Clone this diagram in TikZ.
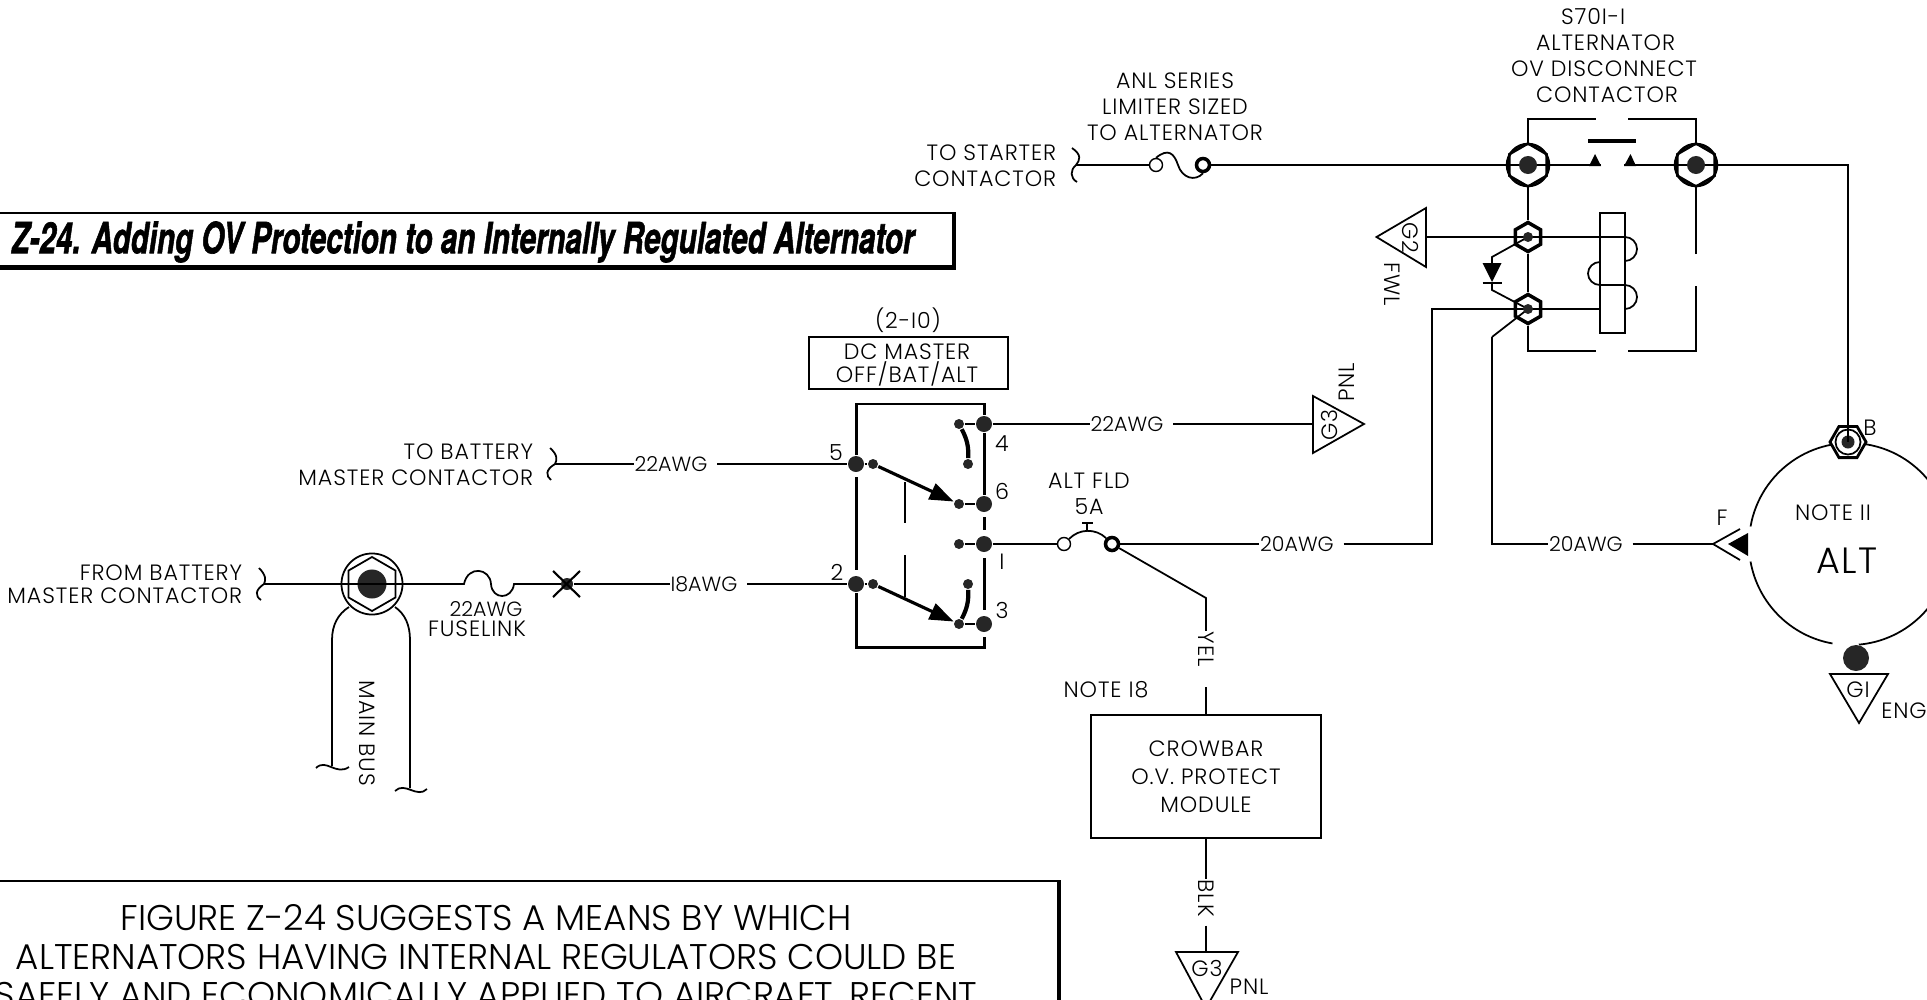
\documentclass[tikz,border=0pt]{standalone}
\usepackage{fontspec}
\setmainfont[LetterSpace=4]{Poppins Light}
\newfontfamily\plainfont{Poppins Light}
\newfontfamily\titlefont[BoldItalicFeatures={FakeBold=1.6}]{TeX Gyre Heros}
\usetikzlibrary{positioning,shapes.geometric,arrows.meta}

\begin{document}
\begin{tikzpicture}[x=0.01cm,y=-0.01cm,line width=0.5pt,
    txt/.style={inner sep=0pt,align=center,yshift=-0.012cm,font=\fontsize{6.3}{7.4}\selectfont},
    awglabel/.style={inner sep=0pt,font=\plainfont\fontsize{5.85}{7}\selectfont},
    bigblob/.style={circle,fill=black!85,inner sep=0pt,minimum size=0.16cm},
    smallblob/.style={circle,fill=black!85,inner sep=0pt,minimum size=0.1cm},
    ring/.style={circle,draw,fill=white,inner sep=0pt,minimum size=0.13cm},
    nutcircle/.style={circle,draw,line width=0.7pt,inner sep=0pt,minimum size=0.42cm},
    nuthex/.style={regular polygon,regular polygon sides=6,shape border rotate=30,draw,line width=0.7pt,inner sep=0pt,minimum size=0.43cm},
    smallnut/.style={regular polygon,regular polygon sides=6,shape border rotate=30,draw,line width=1pt,inner sep=0pt,minimum size=0.29cm},
    swline/.style={line width=0.85pt},
    handle/.style={line width=1.2pt},
    throw/.style={line width=0.9pt,-{Triangle[length=0.24cm,width=0.17cm]}},
    box/.style={draw,line width=0.7pt,inner sep=0pt}
    ]
    \useasboundingbox (0,0) rectangle (1927,1000);
    \clip (0,0) rectangle (1927,1000);

    % title and note
    \draw[line width=0.6pt] (-5,213) -- (953,213) -- (953,266) -- (-5,266);
    \fill (-5,265) rectangle (956,270);
    \fill (952,212) rectangle (956,270);
    \node[inner sep=0pt,xscale=0.69,transform shape,font=\titlefont\bfseries\itshape\fontsize{12.2}{14}\selectfont] (title) at (463,242) {Z-24. Adding OV Protection to an Internally Regulated Alternator};
    \draw[line width=0.6pt] (-5,881) -- (1060,881);
    \fill (1057,880) rectangle (1061,1005);
    \node[txt,font=\plainfont\fontsize{10.15}{10.9}\selectfont] (note) at (486,955) {FIGURE Z-24 SUGGESTS A MEANS BY WHICH\\ALTERNATORS HAVING INTERNAL REGULATORS COULD BE\\SAFELY AND ECONOMICALLY APPLIED TO AIRCRAFT. RECENT};

    % contactor
    \node[nutcircle] (C1) at (1528,165) {};
    \node[nuthex] (C1h) at (1528,165) {};
    \node[nutcircle] (C2) at (1696,165) {};
    \node[nuthex] (C2h) at (1696,165) {};
    \node[smallnut] (R1) at (1528,237) {};
    \node[smallnut] (R2) at (1528,309) {};
    \node[txt,align=left] (contactor) at (1604,54) {\hspace*{0.5cm}S70I-I\\\hspace*{0.25cm}ALTERNATOR\\OV DISCONNECT\\\hspace*{0.25cm}CONTACTOR};
    \draw (C1.center) to (1601,165);
    \draw (1624,165) to (C2.center);
    \fill (1589,166) -- (1595,154) -- (1601,166) -- cycle;
    \fill (1624,166) -- (1630.5,154) -- (1636,166) -- cycle;
    \draw[line width=1.1pt] (1588,141) -- (1636,141);
    \draw (C1) to (1528,119) -- (1596,119);
    \draw (1628,119) -- (1696,119) to (C2);
    \draw (C1) to (R1);
    \draw (R1) to (R2);
    \draw (R2) to (1528,351) -- (1596,351);
    \draw (1628,351) -- (1696,351) -- (1696,286);
    \draw (1696,254) to (C2);
    \node[draw,inner sep=0pt,minimum width=0.25cm,minimum height=1.2cm] (coil) at (1612.5,273) {};
    \draw (R1.center) to (1625,237) arc[start angle=90,end angle=-90,x radius=12,y radius=-12];
    \draw (1600,262) arc[start angle=90,end angle=270,x radius=12,y radius=-11.5] -- (1625,285) arc[start angle=90,end angle=-90,x radius=12,y radius=-12];
    \draw (R2.center) to (1600,309);
    % diode
    \draw (R1.center) -- (1492,257) -- (1492,264);
    \fill (1482.5,263) -- (1501.5,263) -- (1492,282) -- cycle;
    \draw[line width=0.8pt] (1482.5,283) -- (1501.5,283);
    \draw (1492,283) -- (1492,290) -- (R2.center);
    % FWL ground
    \coordinate (G2a) at (1426,237);
    \draw (1376.5,237) -- (1426,208) -- (1426,267) -- cycle;
    \node[txt,rotate=-90] (G2) at (1410,237) {G2};
    \node[txt,rotate=-90] (FWL) at (1392,283) {FWL};
    \draw (G2a) to (R1.center);

    % limiter
    \node[txt] (anl) at (1175,106) {ANL SERIES\\LIMITER SIZED\\TO ALTERNATOR};
    \node[txt,anchor=east,align=right] (starter) at (1057,165) {TO STARTER\\CONTACTOR};
    \coordinate (LimIn) at (1076,165);
    \node[ring,line width=0.4pt] (L1) at (1156,165) {};
    \node[ring,line width=1pt] (L2) at (1203,165) {};
    \draw (1072,148) .. controls (1082,155) and (1080,160) .. (LimIn) .. controls (1070,170) and (1070,178) .. (1077,182);
    \draw (LimIn) to (L1);
    \draw (L1.north) .. controls (1168,148) and (1174,153) .. (1178,165) .. controls (1182,178) and (1195,182) .. (L2.south);
    \draw (L2) to (C1.center);
    \draw (C2.center) to (1848,165) to (1848,442);

    % switch
    \node[txt] (swref) at (908,319) {(2-I0)};
    \node[box,minimum width=1.99cm,minimum height=0.52cm] (swname) at (908.5,363) {};
    \node[txt,font=\fontsize{6.3}{6.6}\selectfont] (swtext) at (907,364) {DC MASTER\\OFF/BAT/ALT};
    \node[bigblob] (S5) at (856,464) {};
    \node[bigblob] (S2) at (856,584) {};
    \node[bigblob] (S4) at (984,424) {};
    \node[bigblob] (S6) at (984,504) {};
    \node[bigblob] (S1) at (984,544) {};
    \node[bigblob] (S3) at (984,624) {};
    \node[smallblob] (D5) at (873,464) {};
    \node[smallblob] (D2) at (873,584) {};
    \node[smallblob] (D4) at (959,424) {};
    \node[smallblob] (D6) at (959,504) {};
    \node[smallblob] (D1) at (959,544) {};
    \node[smallblob] (D3) at (959,624) {};
    \node[smallblob] (U4) at (968,464) {};
    \node[smallblob] (U3) at (968,584) {};
    \node[txt] (n5) at (836,451) {5};
    \node[txt] (n2) at (837,571) {2};
    \node[txt] (n4) at (1002,442) {4};
    \node[txt] (n6) at (1002,490) {6};
    \node[txt] (n1) at (1002,561) {I};
    \node[txt] (n3) at (1002,609) {3};
    \draw[swline] (S5) to (856,404) -- (984,404) to (S4);
    \draw[swline] (856,477) -- (856,570);
    \draw[swline] (S2) to (856,647) -- (984,647) -- (984,637);
    \draw[swline] (S4) to (S6);
    \draw[swline] (984,517) -- (984,530);
    \draw[swline] (984,558) -- (984,610);
    \draw (S5) to (D5);
    \draw (S2) to (D2);
    \draw (D4) to (S4);
    \draw (D6) to (S6);
    \draw (D1) to (S1);
    \draw (D3) to (S3);
    \draw[handle] (D4) to[bend left=15] (U4);
    \draw[handle] (U3) to[bend left=15] (D3);
    \draw[throw] (D5) to (D6);
    \draw[throw] (D2) to (D3);
    \draw (905,482) -- (905,523);
    \draw (905,555) -- (905,597);

    % left side
    \node[txt,anchor=east,align=right] (batto) at (534,464) {TO BATTERY\\MASTER CONTACTOR};
    \coordinate (BatIn) at (555,464);
    \node[awglabel] (awg5) at (671,464) {22AWG};
    \draw (550,448) .. controls (558,455) and (557,460) .. (BatIn) .. controls (545,470) and (546,476) .. (551,480);
    \draw (BatIn) to (awg5.west);
    \draw ([xshift=0.09cm]awg5.east) to (S5);
    \node[txt,anchor=east,align=right,font=\fontsize{6.3}{6.6}\selectfont] (batfrom) at (243,583) {FROM BATTERY\\MASTER CONTACTOR};
    \coordinate (FromIn) at (264,584);
    \draw (259,568) .. controls (266,575) and (266,580) .. (FromIn) .. controls (255,590) and (255,596) .. (261,600);
    \node[circle,draw,inner sep=0pt,minimum size=0.61cm] (T) at (372,584) {};
    \node[nuthex,minimum size=0.54cm,line width=0.5pt] (Th) at (372,584) {};
    \node[circle,fill=black!85,inner sep=0pt,minimum size=0.29cm] (Tb) at (372,584) {};
    \draw (FromIn) to (464,584) .. controls (468,565) and (490,568) .. (491,584) .. controls (492,600) and (512,600) .. (514,584) to (566,584);
    \node[txt,font=\fontsize{6.3}{5.7}\selectfont] (fuse) at (477,618) {\hspace*{0.18cm}{\plainfont\fontsize{5.85}{5.7}\selectfont 22AWG}\\FUSELINK};
    \node[bigblob,minimum size=0.12cm] (X) at (567,584) {};
    \draw[line width=0.6pt] (553,571) -- (580,597);
    \draw[line width=0.6pt] (553,597) -- (580,571);
    \node[awglabel] (awg18) at (704,584) {I8AWG};
    \draw (X) to (awg18.west);
    \draw ([xshift=0.09cm]awg18.east) to (S2);
    % main bus
    \draw (349,607) .. controls (338,614) and (332,625) .. (332,640) -- (332,766);
    \draw (395,607) .. controls (405,614) and (410,625) .. (410,640) -- (410,788);
    \draw (316,768) .. controls (326,758) and (336,776) .. (349,767);
    \draw (395,791) .. controls (405,781) and (417,799) .. (427,789);
    \node[txt,rotate=-90] (mainbus) at (367,732) {MAIN BUS};

    % DC master output
    \node[awglabel] (awg4) at (1127,424) {22AWG};
    \coordinate (G3a) at (1313,424);
    \draw (S4) to (awg4.west);
    \draw ([xshift=0.09cm]awg4.east) to (G3a);
    \draw (1313,396) -- (1313,453) -- (1364,424) -- cycle;
    \node[txt,rotate=90] (G3up) at (1329,424) {G3};
    \node[txt,rotate=90] (PNLup) at (1347,381) {PNL};

    % breaker
    \node[txt] (altfld) at (1089,493) {ALT FLD\\5A};
    \node[ring,line width=0.4pt] (B1) at (1064,544) {};
    \node[ring,line width=1pt] (B2) at (1112,544) {};
    \draw (S1) to (B1);
    \draw (B1.north east) to[bend left=45] (B2.north west);
    \draw (1087,530) -- (1087,523);
    \draw (1082,523) -- (1093,523);
    \node[awglabel] (awg1) at (1297,544) {20AWG};
    \draw (B2) to (awg1.west);
    \draw ([xshift=0.09cm]awg1.east) to (1432,544) to (1432,309) to (R2.center);

    % crowbar
    \node[txt,rotate=-90] (yel) at (1206,648) {YEL};
    \node[txt] (note18) at (1106,688) {NOTE I8};
    \node[box,align=center,minimum width=2.3cm,minimum height=1.23cm,font=\fontsize{6.3}{7.9}\selectfont] (crowbar) at (1206,776.5) {CROWBAR\\O.V. PROTECT\\MODULE};
    \draw (B2) to (1206,598) to (yel.west);
    \draw ([yshift=-0.2cm]yel.east) to (crowbar.north);
    \node[txt,rotate=-90] (blk) at (1206,897) {BLK};
    \draw (crowbar.south) to (blk.west);
    \coordinate (G3b) at (1206,952);
    \draw ([yshift=-0.08cm]blk.east) to (G3b);
    \draw (1176,952) -- (1238,952) -- (1206,1008) -- cycle;
    \node[txt] (G3down) at (1207,967) {G3};
    \node[txt] (PNLdown) at (1249,986) {PNL};

    % alternator
    \draw (1850,544) ++(100:101) arc[start angle=100,end angle=170,radius=101];
    \draw (1850,544) ++(190:101) arc[start angle=190,end angle=445,radius=101];
    \node[regular polygon,regular polygon sides=6,draw,fill=white,line width=0.8pt,inner sep=0pt,minimum size=0.36cm] (BT) at (1848,442) {};
    \node[circle,draw,inner sep=0pt,minimum size=0.25cm] (BTc) at (1848,442) {};
    \node[bigblob,minimum size=0.13cm] (BTb) at (1848,442) {};
    \draw (1848,425) -- (BTb.center);
    \node[txt] (Bl) at (1870,427) {B};
    \node[txt] (Fl) at (1722,517) {F};
    \node[txt] (noteii) at (1833,512) {NOTE II};
    \node[txt,font=\fontsize{10.4}{12}\selectfont] (alt) at (1847,560) {ALT};
    \coordinate (FT) at (1713,544);
    \node[awglabel] (awgF) at (1586,544) {20AWG};
    \draw (1492,337) -- (R2.center);
    \draw (1492,337) to (1492,544) to (awgF.west);
    \draw ([xshift=0.09cm]awgF.east) to (FT);
    \draw (1740,529) -- (FT) -- (1740,560);
    \fill (1728,544) -- (1748,533) -- (1748,556) -- cycle;
    \node[circle,fill=black!85,inner sep=0pt,minimum size=0.26cm] (GB) at (1856,658) {};
    \draw (1830,674) -- (1888,674) -- (1859,723) -- cycle;
    \node[txt] (G1) at (1858,689) {GI};
    \node[txt] (ENG) at (1904,710) {ENG};

    % blobs on top
    \node[bigblob,minimum size=0.18cm] (C1b) at (1528,165) {};
    \node[bigblob,minimum size=0.18cm] (C2b) at (1696,165) {};
    \node[smallblob] (R1b) at (1528,237) {};
    \node[smallblob] (R2b) at (1528,309) {};
    \end{tikzpicture}
\end{document}
